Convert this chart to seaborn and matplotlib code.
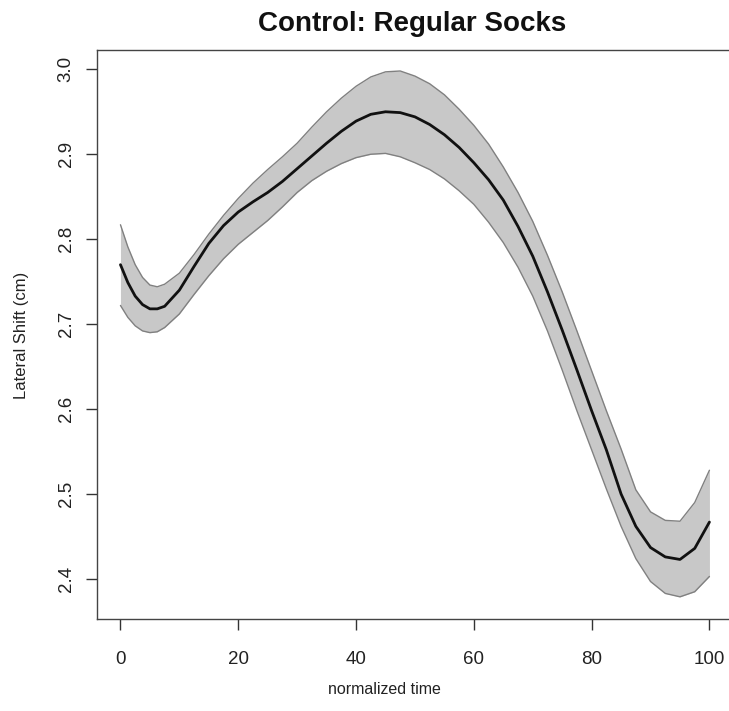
import matplotlib
matplotlib.use("Agg")
import matplotlib.pyplot as plt
import seaborn as sns
import pandas as pd

# ---- data ----
time = [0, 1.25, 2.5, 3.75, 5, 6.25, 7.5, 10, 12.5, 15, 17.5, 20, 22.5, 25,
        27.5, 30, 32.5, 35, 37.5, 40, 42.5, 45, 47.5, 50, 52.5, 55, 57.5, 60,
        62.5, 65, 67.5, 70, 72.5, 75, 77.5, 80, 82.5, 85, 87.5, 90, 92.5, 95,
        97.5, 100]
mean_shift = [2.770, 2.749, 2.733, 2.723, 2.718, 2.718, 2.721, 2.740, 2.768,
              2.795, 2.816, 2.832, 2.844, 2.855, 2.868, 2.883, 2.898, 2.913,
              2.927, 2.939, 2.947, 2.950, 2.949, 2.944, 2.935, 2.923, 2.908,
              2.890, 2.870, 2.846, 2.815, 2.780, 2.738, 2.693, 2.646, 2.598,
              2.552, 2.500, 2.462, 2.437, 2.426, 2.423, 2.436, 2.467]
upper_shift = [2.817, 2.791, 2.770, 2.755, 2.746, 2.744, 2.747, 2.760, 2.782,
               2.806, 2.828, 2.848, 2.866, 2.882, 2.897, 2.913, 2.932, 2.950,
               2.966, 2.980, 2.991, 2.997, 2.998, 2.992, 2.983, 2.970, 2.953,
               2.934, 2.912, 2.885, 2.855, 2.821, 2.781, 2.738, 2.692, 2.645,
               2.598, 2.553, 2.505, 2.479, 2.469, 2.468, 2.490, 2.528]
lower_shift = [2.722, 2.708, 2.698, 2.692, 2.690, 2.691, 2.696, 2.712, 2.735,
               2.757, 2.777, 2.794, 2.808, 2.822, 2.838, 2.855, 2.869, 2.880,
               2.889, 2.896, 2.900, 2.901, 2.897, 2.890, 2.882, 2.871, 2.857,
               2.841, 2.820, 2.796, 2.767, 2.733, 2.692, 2.646, 2.598, 2.552,
               2.506, 2.462, 2.424, 2.397, 2.383, 2.379, 2.385, 2.403]
x_ticks = [0, 20, 40, 60, 80, 100]
y_ticks = [2.4, 2.5, 2.6, 2.7, 2.8, 2.9, 3.0]
title = "Control: Regular Socks"
x_label = "normalized time"
y_label = "Lateral Shift (cm)"

df = pd.DataFrame({"time": time, "mean": mean_shift,
                   "upper": upper_shift, "lower": lower_shift})

sns.set_style("ticks")
plt.rcParams["font.family"] = ["Liberation Sans", "DejaVu Sans"]

W, H = 729, 711
fig = plt.figure(figsize=(W / 100, H / 100), dpi=100)
ax = fig.add_axes([96.9 / W, 1 - 619 / H, (733.0 - 96.9) / W, (619 - 49.5) / H])

ax.fill_between(df["time"], df["lower"], df["upper"], color="#c8c8c8",
                linewidth=0, zorder=1)
sns.lineplot(data=df, x="time", y="upper", ax=ax, color="#808080",
             linewidth=1.0, zorder=2)
sns.lineplot(data=df, x="time", y="lower", ax=ax, color="#808080",
             linewidth=1.0, zorder=2)
sns.lineplot(data=df, x="time", y="mean", ax=ax, color="#111111",
             linewidth=2.0, zorder=3)

ax.set_xlim(-4, 104)
ax.set_ylim(2.3529, 3.0233)
ax.set_xticks(x_ticks)
ax.set_xticklabels([str(v) for v in x_ticks])
ax.set_yticks(y_ticks)
ax.set_yticklabels([f"{v:.1f}" for v in y_ticks], rotation=90, va="center")
ax.tick_params(axis="both", direction="out", length=8, width=1.0,
               color="#333333", labelsize=13.5, labelcolor="#222222")
ax.tick_params(axis="x", pad=15)
ax.tick_params(axis="y", pad=8)

for s in ax.spines.values():
    s.set_visible(True)
    s.set_color("#444444")
    s.set_linewidth(1.0)
ax.spines["right"].set_visible(False)

ax.set_xlabel("")
ax.set_ylabel("")
fig.text(384 / W, 1 - 690 / H, x_label, ha="center", va="center",
         fontsize=11.5, color="#222222")
fig.text(22 / W, 1 - 335 / H, y_label, ha="center", va="center",
         rotation=90, fontsize=12, color="#222222")
fig.text(412 / W, 1 - 24 / H, title, ha="center", va="center",
         fontsize=20, fontweight="bold", color="#111111")

fig.savefig("out.png", dpi=100)
